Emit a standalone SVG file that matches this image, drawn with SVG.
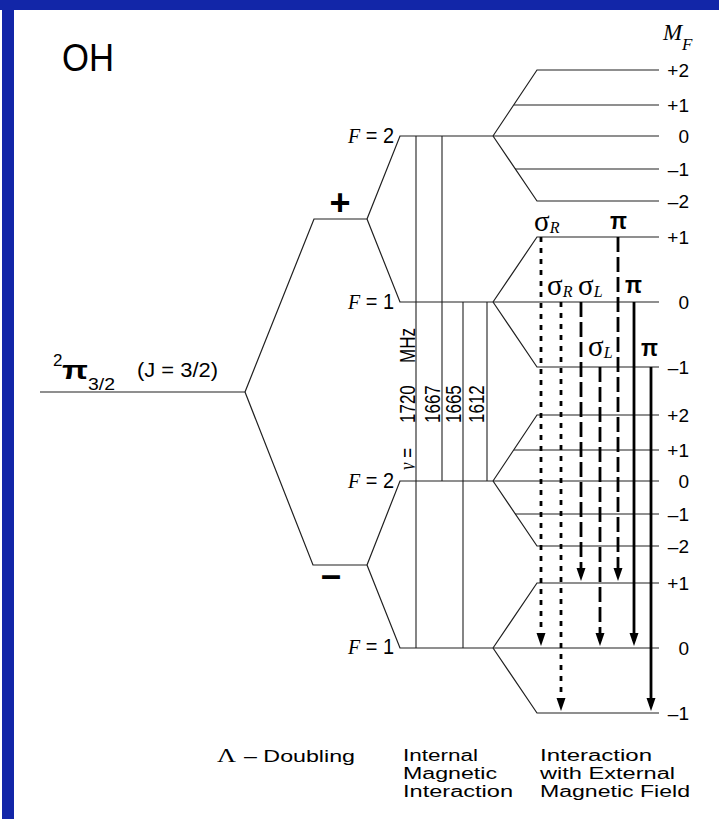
<svg xmlns="http://www.w3.org/2000/svg" width="719" height="819" viewBox="0 0 719 819">
<style>
.lv{fill:none;stroke:#202020;stroke-width:1.2}
.vl{stroke:#202020;stroke-width:1.1}
.ar{stroke:#000;stroke-width:2.8;fill:none}
.dot{stroke-dasharray:5 6}
.dash{stroke-dasharray:15 5}
.sans{font-family:"Liberation Sans",Arial,sans-serif;fill:#000}
.serif{font-family:"Liberation Serif","Times New Roman",serif;fill:#000}
.mf{font-family:"Liberation Sans",Arial,sans-serif;font-size:19px;text-anchor:end;fill:#000}
.fl{font-family:"Liberation Sans",Arial,sans-serif;font-size:22px;text-anchor:end;fill:#000}
.it{font-family:"Liberation Serif","Times New Roman",serif;font-style:italic}
.rot{font-family:"Liberation Sans",Arial,sans-serif;font-size:17px;fill:#000}
.bl{font-family:"Liberation Sans",Arial,sans-serif;font-size:16px;fill:#000}
.sg{font-family:"Liberation Serif","Times New Roman",serif;font-size:29px;fill:#000}
.pi{font-family:"Liberation Sans",Arial,sans-serif;font-size:24px;font-weight:bold;fill:#000}
.sub{font-family:"Liberation Serif","Times New Roman",serif;font-style:italic;font-size:16px}
</style>
<defs>
<marker id="ah" markerUnits="userSpaceOnUse" markerWidth="14" markerHeight="10" refX="8" refY="4.5" orient="auto">
<path d="M0,0 L13,4.5 L0,9 z" fill="#000"/>
</marker>
</defs>
<rect x="0" y="0" width="719" height="819" fill="#fff"/>
<g id="frame">
<rect x="0" y="0" width="719" height="10" fill="#1226a8"/>
<rect x="2" y="0" width="12" height="819" fill="#1226a8"/>
</g>
<g id="title"><text class="sans" x="62" y="71" font-size="38" textLength="52" lengthAdjust="spacingAndGlyphs">OH</text></g>

<g id="ground">
<line class="lv" x1="40" y1="392" x2="245" y2="392"/>
<text class="sans" x="53" y="366" font-size="17">2</text>
<text class="sans" x="62" y="379" font-size="26" font-weight="bold" textLength="26" lengthAdjust="spacingAndGlyphs">π</text>
<text class="sans" x="88" y="390" font-size="17" textLength="27" lengthAdjust="spacingAndGlyphs">3/2</text>
<text class="sans" x="137" y="377" font-size="21" textLength="81" lengthAdjust="spacingAndGlyphs">(J = 3/2)</text>
</g>

<g id="lambda-plus">
<polyline class="lv" points="245,392 314,219 367,219"/>
<text class="sans" x="340" y="215" font-size="36" font-weight="bold" text-anchor="middle">+</text>
</g>
<g id="lambda-minus">
<polyline class="lv" points="245,392 313,565 367,565"/>
<text class="sans" x="331" y="587" font-size="36" font-weight="bold" text-anchor="middle">–</text>
</g>

<g id="F2-plus">
<polyline class="lv" points="367,219 400,136 493,136"/>
<text class="fl" x="394" y="143" textLength="46" lengthAdjust="spacingAndGlyphs"><tspan class="it">F</tspan> = 2</text>
<polyline class="lv" points="493,136 537,70 659,70"/>
<line class="lv" x1="514" y1="105" x2="659" y2="105"/>
<line class="lv" x1="493" y1="136" x2="659" y2="136"/>
<line class="lv" x1="515" y1="169" x2="659" y2="169"/>
<polyline class="lv" points="493,136 537,201 659,201"/>
<text class="mf" x="689" y="77">+2</text>
<text class="mf" x="689" y="112">+1</text>
<text class="mf" x="689" y="143">0</text>
<text class="mf" x="689" y="176">–1</text>
<text class="mf" x="689" y="208">–2</text>
</g>

<g id="F1-plus">
<polyline class="lv" points="367,219 400,302 493,302"/>
<text class="fl" x="394" y="309" textLength="46" lengthAdjust="spacingAndGlyphs"><tspan class="it">F</tspan> = 1</text>
<polyline class="lv" points="493,302 537,237 659,237"/>
<line class="lv" x1="493" y1="302" x2="659" y2="302"/>
<polyline class="lv" points="493,302 537,367 659,367"/>
<text class="mf" x="689" y="244">+1</text>
<text class="mf" x="689" y="309">0</text>
<text class="mf" x="689" y="374">–1</text>
</g>

<g id="F2-minus">
<polyline class="lv" points="367,565 400,481 493,481"/>
<text class="fl" x="394" y="488" textLength="46" lengthAdjust="spacingAndGlyphs"><tspan class="it">F</tspan> = 2</text>
<polyline class="lv" points="493,481 537,415 659,415"/>
<line class="lv" x1="514" y1="450" x2="659" y2="450"/>
<line class="lv" x1="493" y1="481" x2="659" y2="481"/>
<line class="lv" x1="515" y1="514" x2="659" y2="514"/>
<polyline class="lv" points="493,481 537,546 659,546"/>
<text class="mf" x="689" y="422">+2</text>
<text class="mf" x="689" y="457">+1</text>
<text class="mf" x="689" y="488">0</text>
<text class="mf" x="689" y="521">–1</text>
<text class="mf" x="689" y="553">–2</text>
</g>

<g id="F1-minus">
<polyline class="lv" points="367,565 400,648 493,648"/>
<text class="fl" x="394" y="654" textLength="46" lengthAdjust="spacingAndGlyphs"><tspan class="it">F</tspan> = 1</text>
<polyline class="lv" points="493,648 537,583 659,583"/>
<line class="lv" x1="493" y1="648" x2="659" y2="648"/>
<polyline class="lv" points="493,648 537,713 659,713"/>
<text class="mf" x="689" y="590">+1</text>
<text class="mf" x="689" y="655">0</text>
<text class="mf" x="689" y="720">–1</text>
</g>

<g id="mf-header">
<text class="serif" x="663" y="40" font-size="23" font-style="italic">M</text>
<text class="serif" x="682" y="50" font-size="17" font-style="italic">F</text>
</g>

<g id="connectors">
<line class="vl" x1="416" y1="136" x2="416" y2="648"/>
<line class="vl" x1="442" y1="136" x2="442" y2="481"/>
<line class="vl" x1="463" y1="302" x2="463" y2="648"/>
<line class="vl" x1="487" y1="302" x2="487" y2="481"/>
<line class="ar dot" x1="541" y1="237" x2="541" y2="641" marker-end="url(#ah)"/>
<line class="ar dot" x1="561" y1="302" x2="561" y2="706" marker-end="url(#ah)"/>
<line class="ar dash" x1="581" y1="302" x2="581" y2="576" marker-end="url(#ah)"/>
<line class="ar dash" x1="600" y1="367" x2="600" y2="641" marker-end="url(#ah)"/>
<line class="ar dash" x1="618" y1="237" x2="618" y2="576" marker-end="url(#ah)"/>
<line class="ar" x1="634" y1="302" x2="634" y2="641" marker-end="url(#ah)"/>
<line class="ar" x1="651" y1="367" x2="651" y2="706" marker-end="url(#ah)"/>
</g>

<g id="freq-labels">
<text class="rot" transform="translate(415,470) rotate(-90) scale(1,1.35)"><tspan class="it">ν</tspan> =</text>
<text class="rot" transform="translate(415,423) rotate(-90) scale(1,1.35)">1720</text>
<text class="rot" transform="translate(415,363) rotate(-90) scale(1,1.35)">MHz</text>
<text class="rot" transform="translate(440,423) rotate(-90) scale(1,1.35)">1667</text>
<text class="rot" transform="translate(461,423) rotate(-90) scale(1,1.35)">1665</text>
<text class="rot" transform="translate(484,423) rotate(-90) scale(1,1.35)">1612</text>
</g>

<g id="transition-labels">
<text class="sg" x="534" y="231">σ<tspan class="sub" dy="2">R</tspan></text>
<text class="pi" x="610" y="229" textLength="17" lengthAdjust="spacingAndGlyphs">π</text>
<text class="sg" x="547" y="295">σ<tspan class="sub" dy="2">R</tspan></text>
<text class="sg" x="578" y="295">σ<tspan class="sub" dy="2">L</tspan></text>
<text class="pi" x="625" y="293" textLength="17" lengthAdjust="spacingAndGlyphs">π</text>
<text class="sg" x="588" y="356">σ<tspan class="sub" dy="2">L</tspan></text>
<text class="pi" x="641" y="356" textLength="17" lengthAdjust="spacingAndGlyphs">π</text>
</g>

<g id="captions">
<text class="serif" x="217" y="762" font-size="19" textLength="19" lengthAdjust="spacingAndGlyphs">Λ</text>
<text class="bl" x="244" y="762" font-size="18" textLength="111" lengthAdjust="spacingAndGlyphs">– Doubling</text>
<text class="bl" x="403" y="761" textLength="75" lengthAdjust="spacingAndGlyphs">Internal</text>
<text class="bl" x="403" y="779" textLength="94" lengthAdjust="spacingAndGlyphs">Magnetic</text>
<text class="bl" x="403" y="797" textLength="110" lengthAdjust="spacingAndGlyphs">Interaction</text>
<text class="bl" x="540" y="761" textLength="112" lengthAdjust="spacingAndGlyphs">Interaction</text>
<text class="bl" x="540" y="779" textLength="135" lengthAdjust="spacingAndGlyphs">with External</text>
<text class="bl" x="540" y="797" textLength="150" lengthAdjust="spacingAndGlyphs">Magnetic Field</text>
</g>
</svg>
